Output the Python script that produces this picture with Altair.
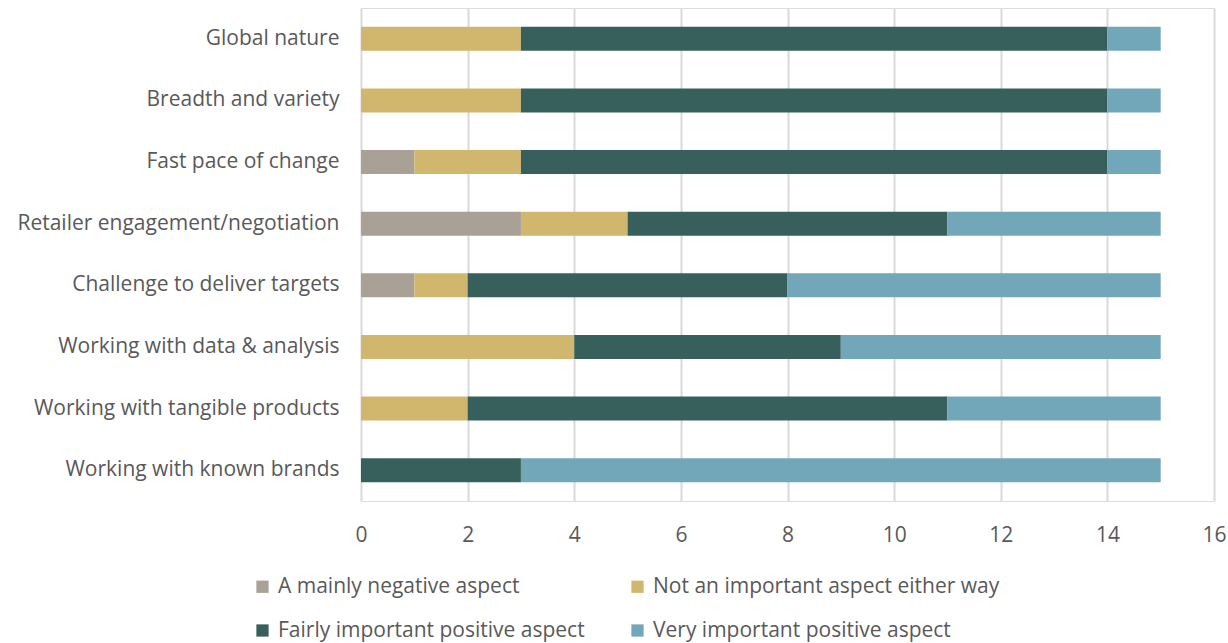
import altair as alt
import pandas as pd

categories = [
    "Global nature",
    "Breadth and variety",
    "Fast pace of change",
    "Retailer engagement/negotiation",
    "Challenge to deliver targets",
    "Working with data & analysis",
    "Working with tangible products",
    "Working with known brands",
]
series = [
    "A mainly negative aspect",
    "Not an important aspect either way",
    "Fairly important positive aspect",
    "Very important positive aspect",
]
negative = [0, 0, 1, 3, 1, 0, 0, 0]
not_important = [3, 3, 2, 2, 1, 4, 2, 0]
fairly_important = [11, 11, 11, 6, 6, 5, 9, 3]
very_important = [1, 1, 1, 4, 7, 6, 4, 12]
colors = ["#A9A096", "#D1B76E", "#375F5B", "#72A7B9"]

rows = []
for i, cat in enumerate(categories):
    for k, vals in enumerate([negative, not_important, fairly_important, very_important]):
        rows.append({"category": cat, "series": series[k], "order": k, "value": vals[i]})
df = pd.DataFrame(rows)

FONT = "Open Sans"
TEXT = "#595959"

chart = (
    alt.Chart(df)
    .mark_bar(size=24)
    .encode(
        y=alt.Y(
            "category:N",
            sort=categories,
            title=None,
            scale=alt.Scale(paddingInner=0.6, paddingOuter=0.3),
            axis=alt.Axis(
                domain=False, ticks=False, grid=False,
                labelFont=FONT, labelFontSize=21, labelColor=TEXT,
                labelPadding=22, labelLimit=400,
            ),
        ),
        x=alt.X(
            "value:Q",
            stack="zero",
            title=None,
            scale=alt.Scale(domain=[0, 16], nice=False),
            axis=alt.Axis(
                values=list(range(0, 17, 2)), domain=False, ticks=False,
                grid=True, gridColor="#D9D9D9", gridWidth=2,
                labelFont=FONT, labelFontSize=21, labelColor=TEXT,
                labelPadding=23, labelFlush=False,
            ),
        ),
        color=alt.Color(
            "series:N",
            sort=series,
            scale=alt.Scale(domain=series, range=colors),
            legend=alt.Legend(
                title=None, orient="none", direction="horizontal",
                legendX=-109, legendY=568,
                columns=2, columnPadding=42, rowPadding=22,
                symbolType="square", symbolSize=150, symbolStrokeWidth=0,
                labelFont=FONT, labelFontSize=21, labelColor=TEXT,
                labelOffset=5, labelLimit=400,
            ),
        ),
        order=alt.Order("order:Q"),
    )
    .properties(
        width=853,
        height=493,
        autosize=alt.AutoSizeParams(type="none"),
        padding={"left": 361, "top": 8, "right": 14, "bottom": 142},
    )
    .configure_view(stroke=None)
    .configure(background="white")
)

chart.save("out.html", embed_options={"renderer": "svg", "actions": False})
